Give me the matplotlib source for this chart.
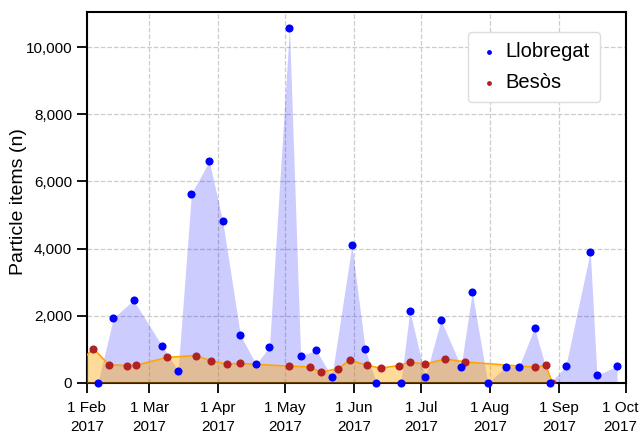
import pandas as pd
import matplotlib
matplotlib.use("Agg")
import matplotlib.pyplot as plt
import matplotlib.dates as mdates
import matplotlib.transforms as mtransforms
from matplotlib.ticker import FuncFormatter

plt.rcParams["font.family"] = ["Liberation Sans", "DejaVu Sans"]

# Llobregat
llob_fechas = ["2017-02-06", "2017-02-13", "2017-02-22", "2017-03-07", "2017-03-14",
               "2017-03-20", "2017-03-28", "2017-04-03", "2017-04-11", "2017-04-18",
               "2017-04-24", "2017-05-03", "2017-05-08", "2017-05-15", "2017-05-22",
               "2017-05-31", "2017-06-06", "2017-06-11", "2017-06-22", "2017-06-26",
               "2017-07-03", "2017-07-10", "2017-07-19", "2017-07-24", "2017-07-31",
               "2017-08-08", "2017-08-14", "2017-08-21", "2017-08-28", "2017-09-04",
               "2017-09-15", "2017-09-18", "2017-09-27"]
llob_valores = [0, 1940, 2460, 1090, 360,
                5640, 6600, 4830, 1420, 560,
                1070, 10580, 800, 980, 180,
                4100, 1000, 0, 0, 2150,
                180, 1870, 490, 2700, 0,
                480, 490, 1640, 0, 500,
                3910, 230, 500]

# Besòs
besos_fechas = ["2017-01-25", "2017-02-04", "2017-02-11", "2017-02-19", "2017-02-23",
                "2017-03-09", "2017-03-22", "2017-03-29", "2017-04-05", "2017-04-11",
                "2017-05-03", "2017-05-12", "2017-05-17", "2017-05-25", "2017-05-30",
                "2017-06-07", "2017-06-13", "2017-06-21", "2017-06-26", "2017-07-03",
                "2017-07-12", "2017-07-21", "2017-08-21", "2017-08-26", "2017-08-29"]
besos_valores = [355, 1025, 540, 520, 525,
                 760, 815, 655, 565, 580,
                 500, 480, 320, 430, 685,
                 525, 440, 520, 615, 565,
                 715, 625, 470, 525, 0]

llob_x = pd.to_datetime(llob_fechas)
besos_x = pd.to_datetime(besos_fechas)

fig = plt.figure(figsize=(6.4, 4.36), dpi=100)
ax = fig.add_axes([0.1355, 0.1216, 0.8425, 0.8514])

# áreas
ax.fill_between(llob_x, llob_valores, 0, color="blue", alpha=0.2, linewidth=0, zorder=2)
ax.fill_between(besos_x, besos_valores, 0, color="orange", alpha=0.4, linewidth=0, zorder=3)
ax.plot(besos_x, besos_valores, color="orange", linewidth=1.2, zorder=4)

# pontos
ax.scatter(besos_x, besos_valores, s=34, color="#b22222", zorder=5, label="Besòs",
           linewidths=0)
ax.scatter(llob_x, llob_valores, s=34, color="blue", zorder=6, label="Llobregat",
           linewidths=0, clip_on=False)

ax.set_xlim(pd.Timestamp("2017-02-01"), pd.Timestamp("2017-10-01"))
ax.set_ylim(0, 11050)
ax.set_yticks([0, 2000, 4000, 6000, 8000, 10000])
ax.yaxis.set_major_formatter(FuncFormatter(lambda v, p: f"{int(v):,}"))
ax.xaxis.set_major_locator(mdates.MonthLocator())
ax.xaxis.set_major_formatter(mdates.DateFormatter("1 %b\n%Y"))

ax.set_ylabel("Particle items (n)", fontsize=14)
ax.yaxis.set_label_coords(-0.111, 0.49)
ax.tick_params(axis="both", labelsize=11, length=7, width=1.3, direction="out", color="black")
ax.tick_params(axis="x", pad=6)
for lbl in ax.get_xticklabels():
    lbl.set_linespacing(1.45)
# última etiqueta um pouco para a esquerda, como no original
fig.canvas.draw()
ultimo = ax.get_xticklabels()[-1]
ultimo.set_transform(ultimo.get_transform() +
                     mtransforms.ScaledTranslation(-6 / 100, 0, fig.dpi_scale_trans))

for s in ax.spines.values():
    s.set_linewidth(1.5)
    s.set_color("black")
ax.grid(True, linestyle="--", color="#cccccc", linewidth=0.9, zorder=0)
ax.set_axisbelow(True)

handles, labels = ax.get_legend_handles_labels()
leg = ax.legend(handles[::-1], labels[::-1], loc="upper right", bbox_to_anchor=(0.952, 0.946),
                borderaxespad=0, fontsize=14.5, markerscale=0.6, framealpha=1,
                edgecolor="#dddddd", handlelength=1.0, handletextpad=0.35,
                borderpad=0.5, labelspacing=0.6)

fig.savefig("out.png", dpi=100)
